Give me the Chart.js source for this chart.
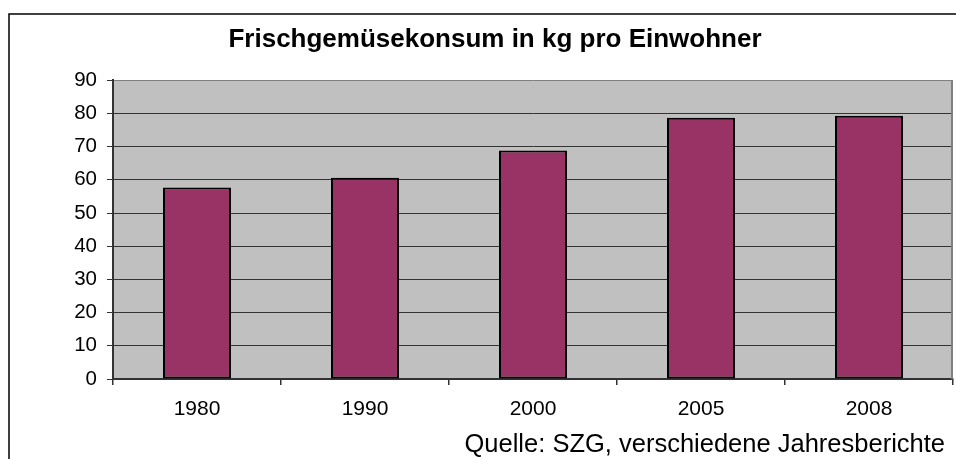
<!DOCTYPE html>
<html>
<head>
<meta charset="utf-8">
<script src="https://cdn.jsdelivr.net/npm/chart.js@4/dist/chart.umd.min.js"></script>
<style>
  body { margin: 0; background: #fff; }
</style>
</head>
<body>
<canvas id="myChart" width="956" height="459"></canvas>
<script>
// chart data
const years = ['1980', '1990', '2000', '2005', '2008'];
const consumption = [57.7, 60.6, 68.8, 78.7, 79.3];
const yTicks = [0, 10, 20, 30, 40, 50, 60, 70, 80, 90];
const titleText = 'Frischgemüsekonsum in kg pro Einwohner';
const sourceText = 'Quelle: SZG, verschiedene Jahresberichte';

const fontFamily = '"Liberation Sans", Arial, sans-serif';

// grey plot area, frame round the whole chart and the source line
const decorations = {
  id: 'decorations',
  beforeDraw(chart) {
    const ctx = chart.ctx;
    const a = chart.chartArea;
    ctx.save();
    ctx.fillStyle = '#fff';
    ctx.fillRect(0, 0, chart.width, chart.height);
    ctx.strokeStyle = '#000';
    ctx.lineWidth = 1.5;
    ctx.strokeRect(9, 14, chart.width + 20, chart.height + 20);
    ctx.fillStyle = '#c0c0c0';
    ctx.fillRect(a.left, a.top, a.right - a.left, a.bottom - a.top);
    ctx.restore();
  },
  beforeDatasetsDraw(chart) {
    const ctx = chart.ctx;
    const a = chart.chartArea;
    ctx.save();
    ctx.strokeStyle = '#808080';
    ctx.lineWidth = 2;
    ctx.beginPath();
    ctx.moveTo(a.right - 1, a.top);
    ctx.lineTo(a.right - 1, a.bottom);
    ctx.stroke();
    ctx.restore();
  },
  afterDraw(chart) {
    const ctx = chart.ctx;
    ctx.save();
    ctx.fillStyle = '#000';
    ctx.font = '25.5px ' + fontFamily;
    ctx.textAlign = 'right';
    ctx.textBaseline = 'middle';
    ctx.fillText(sourceText, 945, 445);
    ctx.restore();
  }
};

const ctx = document.getElementById('myChart').getContext('2d');
const myChart = new Chart(ctx, {
  type: 'bar',
  data: {
    labels: years,
    datasets: [{
      data: consumption,
      backgroundColor: '#993366',
      borderColor: '#000',
      borderWidth: 2,
      borderSkipped: false,
      categoryPercentage: 1,
      barPercentage: 0.405
    }]
  },
  options: {
    responsive: false,
    animation: false,
    layout: { padding: { left: 37, right: 3, top: 0, bottom: 0 } },
    plugins: {
      legend: { display: false },
      tooltip: { enabled: false },
      title: {
        display: true,
        text: titleText,
        color: '#000',
        font: { family: fontFamily, size: 26, weight: 'bold', lineHeight: 1.2 },
        padding: { top: 24, bottom: 25 }
      }
    },
    scales: {
      x: {
        offset: true,
        afterFit(scale) { scale.height = 80; },
        grid: {
          offset: true,
          drawOnChartArea: false,
          drawTicks: true,
          tickLength: 6,
          color: '#333',
          lineWidth: 1.5
        },
        border: { color: '#333', width: 2 },
        ticks: {
          color: '#000',
          padding: 12,
          font: { family: fontFamily, size: 21 }
        }
      },
      y: {
        min: 0,
        max: 90,
        afterFit(scale) { scale.width = 76; },
        afterBuildTicks(scale) { scale.ticks = yTicks.map(v => ({ value: v })); },
        grid: {
          color: c => (c.tick && c.tick.value === 90 ? '#808080' : '#333'),
          tickColor: '#333',
          lineWidth: 1,
          tickLength: 6
        },
        border: { color: '#333', width: 2 },
        ticks: {
          color: '#000',
          padding: 10,
          font: { family: fontFamily, size: 20.5 }
        }
      }
    }
  },
  plugins: [decorations]
});
</script>
</body>
</html>
